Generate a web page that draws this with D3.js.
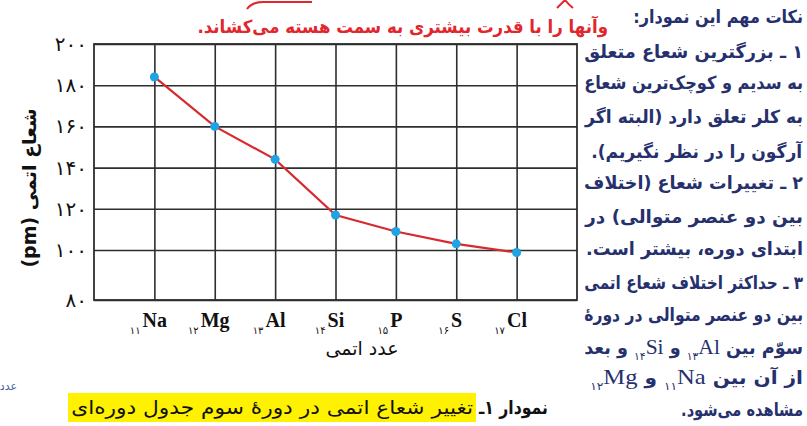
<!DOCTYPE html>
<html>
<head>
<meta charset="utf-8">
<script src="https://cdn.jsdelivr.net/npm/d3@7"></script>
<style>
  html, body { margin: 0; padding: 0; background: #fff; }
  svg { display: block; }
</style>
</head>
<body>
<svg id="chart" width="807" height="426"></svg>
<script>
// ---- data ----
const elements = ["Na", "Mg", "Al", "Si", "P", "S", "Cl"];
const atomicNumbers = ["۱۱", "۱۲", "۱۳", "۱۴", "۱۵", "۱۶", "۱۷"];
const radii = [184, 160, 144, 117, 109, 103, 99];
const yTickValues = [80, 100, 120, 140, 160, 180, 200];
const yTickLabels = ["۸۰", "۱۰۰", "۱۲۰", "۱۴۰", "۱۶۰", "۱۸۰", "۲۰۰"];
const yTitle = "شعاع اتمی (pm)";
const xTitle = "عدد اتمی";
const captionLead = "نمودار ۱ـ";
const captionText = "تغییر شعاع اتمی در دورهٔ سوم جدول دوره‌ای";
const topNote = "وآنها را با قدرت بیشتری به سمت هسته می‌کشاند.";
const notes = [
  "نکات مهم این نمودار:",
  "۱ ـ بزرگترین شعاع متعلق",
  "به سدیم و کوچک‌ترین شعاع",
  "به کلر تعلق دارد (البته اگر",
  "آرگون را در نظر نگیریم).",
  "۲ ـ تغییرات شعاع (اختلاف",
  "بین دو عنصر متوالی) در",
  "ابتدای دوره، بیشتر است.",
  "۳ ـ حداکثر اختلاف شعاع اتمی",
  "بین دو عنصر متوالی در دورهٔ",
  [["سوّم بین ", "t"], ["۱۳", "s"], ["Al", "e"], [" و ", "t"], ["۱۴", "s"], ["Si", "e"], [" و بعد", "t"]],
  [["از آن بین ", "t"], ["۱۱", "s"], ["Na", "e"], [" و ", "t"], ["۱۲", "s"], ["Mg", "e"]],
  "مشاهده می‌شود."
];
const notesWidth = [170, 219, 219, 219, 212, 219, 219, 217, 219, 219, 219, 213, 122];
const sideWord = "عدد";

// ---- layout ----
const svg = d3.select("#chart");
const W = 807, H = 426;
svg.append("rect").attr("width", W).attr("height", H).attr("fill", "#fff");

const plot = { left: 94, right: 577, top: 44, bottom: 300 };

const x = d3.scalePoint().domain(elements).range([plot.left, plot.right]).padding(1);
const y = d3.scaleLinear().domain([80, 100, 200]).range([plot.bottom, 250, plot.top]);

const gridColor = "#2e2e2e";
const persian = "'DejaVu Sans', sans-serif";
const RLE = "\u202B", LRE = "\u202A", PDF = "\u202C";
const rtl = s => RLE + s + PDF;

// place an RTL text so that its right edge sits at xRight, optionally stretched to width w
function placeRTL(sel, xRight, yBase, w) {
  sel.attr("x", 0).attr("y", 0).attr("direction", "rtl").attr("text-anchor", "start");
  const bb = sel.node().getBBox();
  const sx = w ? w / bb.width : 1;
  const right = bb.x + bb.width;
  sel.attr("transform", `translate(${xRight},${yBase}) scale(${sx},1) translate(${-right},0)`);
}

// horizontal grid + y labels
const yAxis = d3.axisLeft(y)
  .tickValues(yTickValues)
  .tickFormat((d, i) => yTickLabels[i])
  .tickSizeInner(-(plot.right - plot.left))
  .tickSizeOuter(0)
  .tickPadding(7);
const gy = svg.append("g").attr("transform", `translate(${plot.left},0)`).call(yAxis);
gy.select(".domain").remove();
gy.selectAll(".tick line").attr("stroke", gridColor).attr("stroke-width", 1.6);
gy.selectAll(".tick text")
  .attr("font-family", persian)
  .attr("font-size", 20)
  .attr("fill", "#111");

// vertical grid
const xAxis = d3.axisBottom(x)
  .tickSizeInner(-(plot.bottom - plot.top))
  .tickSizeOuter(0)
  .tickFormat("");
const gx = svg.append("g").attr("transform", `translate(0,${plot.bottom})`).call(xAxis);
gx.select(".domain").remove();
gx.selectAll(".tick line").attr("stroke", gridColor).attr("stroke-width", 1.6);

// border
svg.append("rect")
  .attr("x", plot.left).attr("y", plot.top)
  .attr("width", plot.right - plot.left).attr("height", plot.bottom - plot.top)
  .attr("fill", "none").attr("stroke", gridColor).attr("stroke-width", 1.8);

// x labels (prescript atomic number + symbol)
elements.forEach((el, i) => {
  const t = svg.append("text")
    .attr("x", x(el) - 6)
    .attr("y", 327)
    .attr("text-anchor", "middle")
    .attr("fill", "#111");
  t.append("tspan")
    .attr("font-family", persian)
    .attr("font-size", 10)
    .attr("dy", 7)
    .text(atomicNumbers[i]);
  t.append("tspan")
    .attr("font-family", "'Liberation Serif', serif")
    .attr("font-weight", "bold")
    .attr("font-size", 20)
    .attr("dy", -7)
    .attr("dx", 2)
    .text(el);
});

// x title
svg.append("text")
  .attr("x", 362).attr("y", 355)
  .attr("text-anchor", "middle")
  .attr("direction", "rtl")
  .attr("font-family", persian)
  .attr("font-size", 19)
  .attr("fill", "#111")
  .text(rtl(xTitle));

// y title
svg.append("text")
  .attr("transform", "translate(36,188) rotate(-90)")
  .attr("text-anchor", "middle")
  .attr("direction", "rtl")
  .attr("font-family", persian)
  .attr("font-weight", "bold")
  .attr("font-size", 19)
  .attr("fill", "#111")
  .text(rtl(yTitle));

// line + points
const data = elements.map((el, i) => ({ el, r: radii[i] }));
svg.append("path")
  .datum(data)
  .attr("fill", "none")
  .attr("stroke", "#d72a2f")
  .attr("stroke-width", 2.2)
  .attr("d", d3.line().x(d => x(d.el)).y(d => y(d.r)));
svg.selectAll("circle.pt").data(data).join("circle")
  .attr("class", "pt")
  .attr("cx", d => x(d.el)).attr("cy", d => y(d.r))
  .attr("r", 4.5)
  .attr("fill", "#1fa3e2");

// caption
svg.append("rect")
  .attr("x", 68).attr("y", 393).attr("width", 408).attr("height", 29)
  .attr("fill", "#fff200");
const capText = svg.append("text")
  .attr("font-family", persian)
  .attr("font-size", 19)
  .attr("fill", "#111")
  .text(rtl(captionText));
placeRTL(capText, 473, 414, 402);
const capLead = svg.append("text")
  .attr("font-family", persian)
  .attr("font-weight", "bold")
  .attr("font-size", 19)
  .attr("fill", "#111")
  .text(rtl(captionLead));
placeRTL(capLead, 548, 414, 70);

// side word
const sw = svg.append("text")
  .attr("font-family", persian)
  .attr("font-size", 11)
  .attr("fill", "#3d5b9c")
  .text(rtl(sideWord));
placeRTL(sw, 17, 390);

// top red note
const red = "#e1262d";
const topT = svg.append("text")
  .attr("font-family", persian)
  .attr("font-weight", "bold")
  .attr("font-size", 18)
  .attr("fill", red)
  .text(rtl(topNote));
placeRTL(topT, 608, 33, 411);
svg.append("path")
  .attr("d", "M247,9 Q252,2 263,2 L312,2 M557,8 Q562,3 565,0 M565,0 Q568,4 573,8")
  .attr("fill", "none").attr("stroke", red).attr("stroke-width", 2);

// notes
const navy = "#25306d";
const noteBaselines = [23, 58, 89, 123, 158, 189, 223, 255, 289, 321, 354, 384, 416];
notes.forEach((line, i) => {
  const t = svg.append("text")
    .attr("font-family", persian)
    .attr("font-weight", "bold")
    .attr("font-size", 18)
    .attr("fill", navy);
  if (typeof line === "string") {
    t.text(rtl(line));
  } else {
    line.forEach(([s, kind], j) => {
      let str = s;
      if (kind === "s") str = LRE + str;        // prescript atomic number + symbol kept as one LTR group
      if (kind === "e") str = str + PDF;
      if (j === 0) str = RLE + str;
      if (j === line.length - 1) str = str + PDF;
      const ts = t.append("tspan").text(str);
      if (kind === "e") ts.attr("font-family", "'Liberation Serif', serif").attr("font-weight", "normal").attr("font-size", 22);
      if (kind === "s") ts.attr("font-size", 11).attr("baseline-shift", -6).attr("font-weight", "normal");
    });
  }
  placeRTL(t, 803, noteBaselines[i], notesWidth[i]);
});
</script>
</body>
</html>
